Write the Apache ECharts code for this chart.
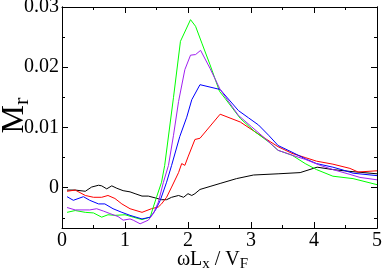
<!DOCTYPE html>
<html><head><meta charset="utf-8">
<script src="https://cdn.jsdelivr.net/npm/echarts@6/dist/echarts.min.js"></script>
<style>html,body{margin:0;padding:0;background:#fff}#c{width:383px;height:274px}</style>
</head><body><div id="c"></div>
<script>
// Data: [x, Mr]
const blackData = [[0.08,-0.0004],[0.21,-0.0004],[0.37,-0.0006],[0.47,0.0001],[0.58,0.0004],[0.63,0.0003],[0.71,-0.0002],[0.79,0.0003],[0.87,-0.0001],[0.97,-0.0005],[1.08,-0.0007],[1.16,-0.001],[1.27,-0.0014],[1.37,-0.0014],[1.48,-0.0017],[1.58,-0.002],[1.66,-0.002],[1.74,-0.0016],[1.85,-0.0013],[1.93,-0.0016],[2.0,-0.001],[2.06,-0.0013],[2.11,-0.001],[2.19,-0.0003],[2.35,0.0002],[2.51,0.0007],[2.77,0.0015],[3.04,0.0021],[3.43,0.0023],[3.78,0.0025],[4.05,0.0034],[4.3,0.003],[4.57,0.0027],[5.0,0.0023]];
const redData = [[0.08,-0.0006],[0.21,-0.0004],[0.37,-0.0013],[0.5,-0.0016],[0.63,-0.0016],[0.73,-0.0013],[0.84,-0.0018],[0.95,-0.0027],[1.08,-0.0035],[1.27,-0.0041],[1.42,-0.0035],[1.53,-0.0032],[1.58,-0.0027],[1.66,-0.0016],[1.74,0.0001],[1.85,0.0025],[1.9,0.004],[1.95,0.0037],[2.0,0.0051],[2.11,0.008],[2.19,0.0082],[2.51,0.0122],[2.83,0.0109],[3.06,0.0093],[3.22,0.0082],[3.43,0.0068],[3.65,0.0057],[3.86,0.005],[4.04,0.0044],[4.3,0.0039],[4.57,0.0032],[4.7,0.0026],[5.0,0.0028]];
const greenData = [[0.08,-0.0041],[0.21,-0.0038],[0.37,-0.0041],[0.5,-0.0042],[0.63,-0.0049],[0.73,-0.0045],[0.84,-0.0046],[1.0,-0.0045],[1.13,-0.0049],[1.27,-0.0053],[1.4,-0.0049],[1.45,-0.0032],[1.5,-0.0016],[1.58,0.0009],[1.63,0.0037],[1.77,0.015],[1.88,0.0243],[2.04,0.0279],[2.12,0.0268],[2.22,0.024],[2.35,0.0204],[2.5,0.016],[2.59,0.0148],[2.83,0.0115],[3.06,0.0093],[3.28,0.0076],[3.43,0.0062],[3.65,0.0054],[3.86,0.004],[4.04,0.003],[4.3,0.0019],[4.62,0.0015],[5.0,0.0005]];
const blueData = [[0.08,-0.0015],[0.18,-0.0021],[0.34,-0.0015],[0.44,-0.0021],[0.58,-0.0027],[0.68,-0.0027],[0.81,-0.0035],[0.95,-0.0041],[1.08,-0.0046],[1.27,-0.0052],[1.4,-0.0049],[1.48,-0.0038],[1.56,-0.0021],[1.66,0.0009],[1.74,0.0037],[1.87,0.0085],[1.98,0.0117],[2.06,0.0146],[2.19,0.0171],[2.51,0.0163],[2.8,0.0128],[2.96,0.0116],[3.12,0.0104],[3.28,0.0087],[3.43,0.007],[3.65,0.0059],[3.86,0.0048],[4.04,0.004],[4.3,0.0034],[4.47,0.0029],[4.62,0.0024],[5.0,0.002]];
const violetData = [[0.08,-0.0033],[0.21,-0.0037],[0.44,-0.0037],[0.55,-0.0035],[0.66,-0.0039],[0.76,-0.0043],[0.89,-0.0048],[0.97,-0.0054],[1.08,-0.0052],[1.13,-0.0054],[1.24,-0.006],[1.37,-0.0054],[1.45,-0.0043],[1.53,-0.0024],[1.61,0.0009],[1.69,0.0037],[1.77,0.0087],[1.85,0.0143],[1.95,0.0196],[2.04,0.022],[2.12,0.0221],[2.2,0.0228],[2.35,0.0198],[2.51,0.0163],[2.8,0.012],[3.01,0.0101],[3.22,0.0082],[3.43,0.0062],[3.65,0.0054],[3.86,0.0047],[4.1,0.0037],[4.3,0.003],[4.57,0.0022],[4.73,0.0017],[5.0,0.0013]];
const yMajorTicks = [0, 0.01, 0.02, 0.03];
const yMinorTicks = [-0.005, 0.005, 0.015, 0.025];
const yLabels = ['0', '0.01', '0.02', '0.03'];

const FONT = '"Liberation Serif","Times New Roman",serif';
const X_MIN = 0, X_MAX = 5, Y_MIN = -0.0067, Y_MAX = 0.03;
const axisLine = {show: true, onZero: false, lineStyle: {color: '#000', width: 1}};

function yAxis(pos, major, withLabel) {
  return {
    type: 'value', position: pos, min: Y_MIN, max: Y_MAX,
    axisLine: axisLine, splitLine: {show: false},
    axisTick: {show: true, inside: true, length: major ? 6 : 3, customValues: major ? yMajorTicks : yMinorTicks, lineStyle: {color: '#000'}},
    axisLabel: withLabel ? {show: true, customValues: yMajorTicks, margin: 3, color: '#000', fontFamily: FONT, fontSize: 20,
      formatter: v => yLabels[yMajorTicks.findIndex(t => Math.abs(t - v) < 1e-9)] ?? ''} : {show: false},
    name: withLabel ? '{m|M}{s|r}' : '', nameLocation: 'middle', nameGap: 30, nameRotate: 90, nameMoveOverlap: false,
    nameTextStyle: {padding: [0, 0, 0, 4], rich: {m: {fontFamily: FONT, fontSize: 32, color: '#000', lineHeight: 34},
                           s: {fontFamily: FONT, fontSize: 22, color: '#000', padding: [14, 0, 0, 0], lineHeight: 20}}}
  };
}
function xAxis(pos, withLabel) {
  return {
    type: 'value', position: pos, min: X_MIN, max: X_MAX, interval: 1,
    axisLine: axisLine, splitLine: {show: false},
    axisTick: {show: true, inside: true, length: 6, lineStyle: {color: '#000'}},
    minorTick: {show: true, splitNumber: 2, length: 3, lineStyle: {color: '#000'}},
    minorSplitLine: {show: false},
    axisLabel: withLabel ? {show: true, margin: 3, color: '#000', fontFamily: FONT, fontSize: 20} : {show: false},
    name: withLabel ? '{m|ωL}{s|x}{m| / V}{s|F}' : '', nameLocation: 'middle', nameGap: 21, nameMoveOverlap: false,
    nameTextStyle: {padding: [0, 14, 0, 0], rich: {m: {fontFamily: FONT, fontSize: 20, color: '#000', lineHeight: 22},
                           s: {fontFamily: FONT, fontSize: 15, color: '#000', padding: [9, 0, 0, 0], lineHeight: 15}}}
  };
}
function line(data, color) {
  return {type: 'line', data: data, xAxisIndex: 0, yAxisIndex: 0, showSymbol: false, symbol: 'none',
          lineStyle: {color: color, width: 1}, itemStyle: {color: color}, animation: false, z: 3};
}
const chart = echarts.init(document.getElementById('c'), null, {renderer: 'canvas'});
chart.setOption({
  animation: false, backgroundColor: '#fff',
  grid: {left: 62, right: 6, top: 7, bottom: 46, containLabel: false, outerBoundsMode: 'none'},
  xAxis: [xAxis('bottom', true), xAxis('top', false)],
  yAxis: [yAxis('left', true, true), yAxis('left', false, false), yAxis('right', true, false), yAxis('right', false, false)],
  series: [line(blackData, '#000000'), line(redData, '#ff0000'), line(greenData, '#00ff00'),
           line(blueData, '#0000ff'), line(violetData, '#a020f0')]
});
</script></body></html>
